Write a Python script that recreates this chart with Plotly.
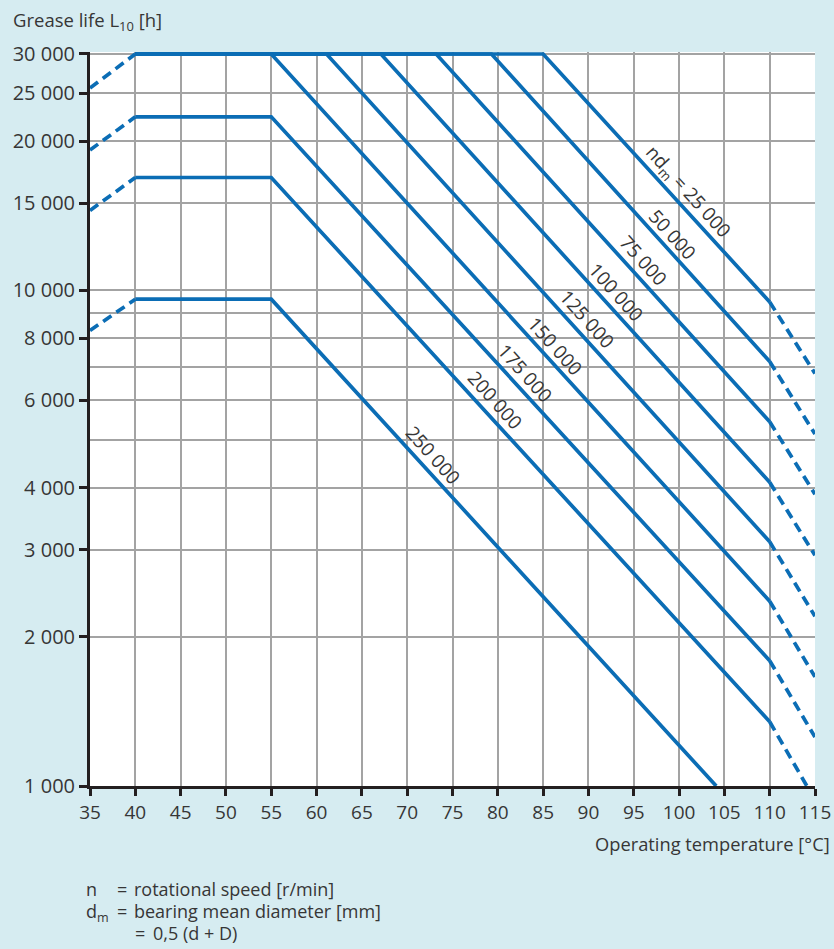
import math
import plotly.graph_objects as go

# ---------------- data ----------------
nd_labels = ["25 000", "50 000", "75 000", "100 000", "125 000",
             "150 000", "175 000", "200 000", "250 000"]
plateau_start_temp = [40, 40, 40, 40, 40, 40, 40, 40, 40]
plateau_life = [30000, 30000, 30000, 30000, 30000, 30000, 22400, 16900, 9600]
decline_start_temp = [85, 79.3, 73.2, 67.1, 61.1, 55, 55, 55, 55]
decline_end_temp = [110, 110, 110, 110, 110, 110, 110, 110, 104.1]
decline_end_life = [9480, 7190, 5430, 4100, 3110, 2360, 1790, 1348, 1000]
extrap_end_temp = [115, 115, 115, 115, 115, 115, 115, 114.1, None]
extrap_end_life = [6800, 5130, 3880, 2920, 2200, 1660, 1255, 1000, None]

low_temp_start = [35, 35, 35, 35]
low_temp_start_life = [25600, 19200, 14500, 8300]
low_temp_end = [40, 40, 40, 40]
low_temp_end_life = [30000, 22400, 16900, 9600]

x_ticks = list(range(35, 120, 5))
y_ticks = [1000, 2000, 3000, 4000, 6000, 8000, 10000, 15000, 20000, 25000, 30000]
y_ticktext = ["1 000", "2 000", "3 000", "4 000", "6 000", "8 000",
              "10 000", "15 000", "20 000", "25 000", "30 000"]
y_minor_grid = [5000, 7000, 9000]

# ---------------- styling ----------------
W, H = 834, 949
ML, MR, MT, MB = 90, 19, 52, 163
PW, PH = W - ML - MR, H - MT - MB
BLUE = "#0b6db5"
GRID = "#a3a3a3"
AXIS = "#231f20"
TXT = "#363636"
BG = "#d6ecf1"
FONT = "Open Sans"


def paper(px, py):
    return (px - ML) / PW, (H - MB - py) / PH


fig = go.Figure()

for i, name in enumerate(nd_labels):
    xs = [plateau_start_temp[i], decline_start_temp[i], decline_end_temp[i]]
    ys = [plateau_life[i], plateau_life[i], decline_end_life[i]]
    fig.add_trace(go.Scatter(x=xs, y=ys, mode="lines",
                             line=dict(color=BLUE, width=3.7),
                             hoverinfo="skip", showlegend=False))
    if extrap_end_temp[i] is not None:
        fig.add_trace(go.Scatter(
            x=[decline_end_temp[i], extrap_end_temp[i]],
            y=[decline_end_life[i], extrap_end_life[i]],
            mode="lines", line=dict(color=BLUE, width=3.7, dash="10px,6px"),
            hoverinfo="skip", showlegend=False))

for i in range(len(low_temp_start)):
    fig.add_trace(go.Scatter(
        x=[low_temp_start[i], low_temp_end[i]],
        y=[low_temp_start_life[i], low_temp_end_life[i]],
        mode="lines", line=dict(color=BLUE, width=3.7, dash="10px,6px"),
        hoverinfo="skip", showlegend=False))

# curve labels (pixel centres measured on the reference)
label_pos = [(688, 192), (672, 234), (643, 260), (616, 292), (587, 319),
             (555, 346), (525, 373), (495, 400), (433, 455)]
annotations = []
for i, name in enumerate(nd_labels):
    txt = ("nd<sub>m</sub> = " + name) if i == 0 else name
    px, py = label_pos[i]
    xp, yp = paper(px, py)
    annotations.append(dict(x=xp, y=yp, xref="paper", yref="paper", text=txt,
                            showarrow=False, textangle=48, xanchor="center",
                            yanchor="middle",
                            font=dict(family=FONT, size=19, color=TXT)))


def add_text(px, py, text, anchor="left", size=18.5):
    xp, yp = paper(px, py)
    annotations.append(dict(x=xp, y=yp, xref="paper", yref="paper", text=text,
                            showarrow=False, xanchor=anchor, yanchor="middle",
                            font=dict(family=FONT, size=size, color=TXT)))


add_text(11, 21, "Grease life L<sub>10</sub> [h]", size=18.5)
add_text(832, 843, "Operating temperature [°C]", anchor="right", size=18.3)
add_text(84, 889, "n", size=18)
add_text(115, 889, "=", size=18)
add_text(132, 889, "rotational speed [r/min]", size=18)
add_text(84, 912, "d<sub>m</sub>", size=18)
add_text(115, 911, "=", size=18)
add_text(132, 911, "bearing mean diameter [mm]", size=18)
add_text(133, 933, "=", size=18)
add_text(151, 933, "0,5 (d + D)", size=18)

fig.update_layout(
    width=W, height=H, autosize=False,
    margin=dict(l=ML, r=MR, t=MT, b=MB, pad=0, autoexpand=False),
    paper_bgcolor=BG, plot_bgcolor="white",
    font=dict(family=FONT, size=19, color=TXT),
    annotations=annotations,
    showlegend=False,
)
fig.update_xaxes(
    range=[35, 115], tickmode="array", tickvals=x_ticks, automargin=False,
    showgrid=True, gridcolor=GRID, gridwidth=1.6,
    showline=True, linecolor=AXIS, linewidth=3,
    ticks="outside", ticklen=7, tickwidth=3, tickcolor=AXIS,
    zeroline=False, tickfont=dict(family=FONT, size=19, color=TXT),
)
fig.update_yaxes(
    type="log", range=[3, math.log10(30000) + 0.004], automargin=False,
    tickmode="array", tickvals=y_ticks, ticktext=y_ticktext,
    showgrid=True, gridcolor=GRID, gridwidth=1.6,
    showline=True, linecolor=AXIS, linewidth=3,
    ticks="outside", ticklen=8, tickwidth=3, tickcolor=AXIS,
    zeroline=False, tickfont=dict(family=FONT, size=20, color=TXT),
    minor=dict(tickmode="array", tickvals=y_minor_grid, showgrid=True,
               gridcolor=GRID, gridwidth=1.6, ticks=""),
)

fig.write_html(
    "out.html",
    config={"displayModeBar": False},
    post_script="document.body.style.margin='0';"
                "document.body.style.overflow='hidden';",
)
